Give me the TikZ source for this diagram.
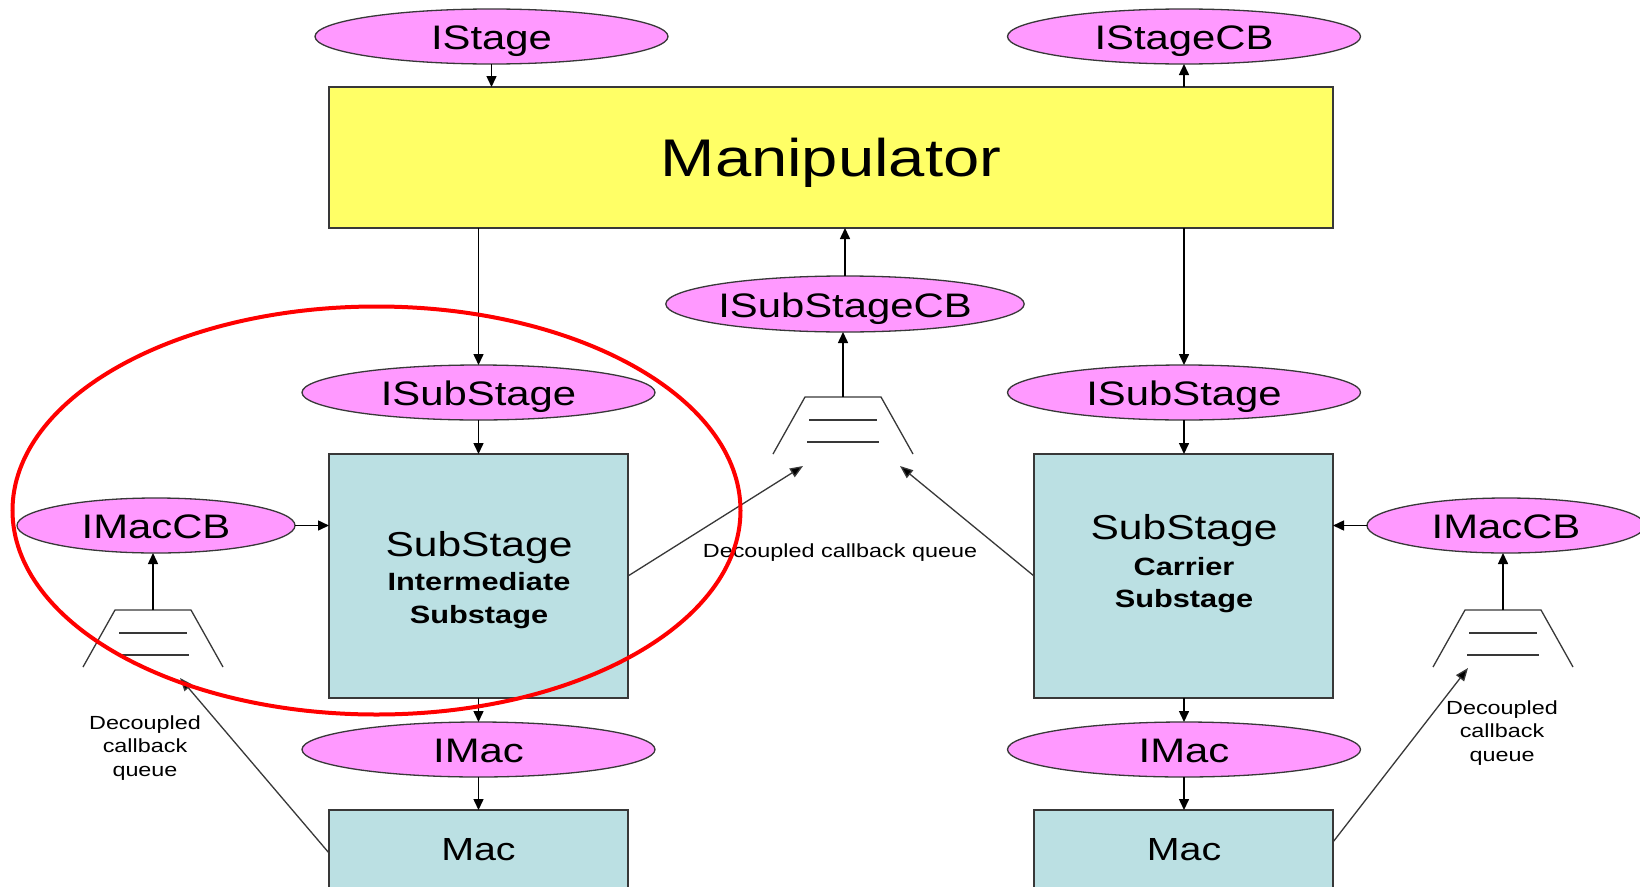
\documentclass[tikz,border=0pt]{standalone}
\usepackage{fontspec}
\setmainfont{Liberation Sans}[FakeStretch=1.23]
\usetikzlibrary{shapes.geometric,arrows.meta}
\definecolor{pinkfill}{HTML}{FF99FF}
\definecolor{cyanfill}{HTML}{BBE0E3}
\definecolor{yellowfill}{HTML}{FFFF66}
\definecolor{edge}{HTML}{383838}
\begin{document}
\begin{tikzpicture}[x=1pt,y=-1pt,
  iface/.style={ellipse, draw=edge, line width=1.3pt, fill=pinkfill,
    minimum width=353pt, minimum height=55pt, inner sep=0pt, outer sep=0pt,
    font=\fontsize{34}{40}\selectfont, text height=26pt, text depth=0pt},
  block/.style={rectangle, draw=edge, line width=1.5pt, fill=cyanfill,
    minimum width=299pt, inner sep=0pt, outer sep=0pt},
  arr/.style={line width=1.5pt, -{Triangle[length=11pt,width=10pt]}},
  diag/.style={draw=edge, line width=1.3pt, -{Triangle[length=13pt,width=10pt,fill=black]}},
  qline/.style={draw=edge, line width=1.3pt},
  big/.style={anchor=base, font=\fontsize{34.6}{40}\selectfont},
  sub/.style={anchor=base, font=\fontsize{25}{30}\selectfont\bfseries},
  small/.style={font=\fontsize{19}{23.5}\selectfont, inner sep=0pt},
  queuepic/.pic={
    \draw[qline] (-70,57) -- (-38,0) -- (38,0) -- (70,57);
    \draw[qline] (-34,23) -- (34,23);
    \draw[qline] (-36,45) -- (36,45);
  }
]
\clip (0,0) rectangle (1640,886);
\fill[white] (0,0) rectangle (1640,886);

% top level
\node[iface] (IStage) at (491.5,36.5) {IStage};
\node[iface] (IStageCB) at (1184,36.5) {IStageCB};
\node[rectangle, draw=edge, line width=1.5pt, fill=yellowfill,
  minimum width=1004pt, minimum height=141pt, inner sep=0pt, outer sep=0pt]
  (Manip) at (831,157.5) {};
\node[anchor=base, font=\fontsize{53}{60}\selectfont] (ManipT) at (831,176) {Manipulator};

% interfaces
\node[iface, minimum width=354pt, minimum height=56pt] (ISubCB) at (845,304) {ISubStageCB};
\node[iface] (ISubL) at (478.5,392.5) {ISubStage};
\node[iface] (ISubR) at (1184,392.5) {ISubStage};

% substages
\node[block, minimum height=244pt] (SubL) at (478.5,576) {};
\node[block, minimum height=244pt] (SubR) at (1183.5,576) {};
\node[big] (SubLT1) at (479,556) {SubStage};
\node[sub] (SubLT2) at (479,590) {Intermediate};
\node[sub] (SubLT3) at (479,623.3) {Substage};
\node[big] (SubRT1) at (1184,539.3) {SubStage};
\node[sub] (SubRT2) at (1184,575.7) {Carrier};
\node[sub] (SubRT3) at (1184,607.7) {Substage};

\node[iface, minimum width=278pt] (MacCBL) at (156,525.5) {IMacCB};
\node[iface, minimum width=278pt] (MacCBR) at (1506,525.5) {IMacCB};

\node[iface] (IMacL) at (478.5,749.5) {IMac};
\node[iface] (IMacR) at (1184,749.5) {IMac};

\node[block, minimum height=100pt, anchor=north] (MacL) at (478.5,810) {};
\node[block, minimum height=100pt, anchor=north] (MacR) at (1183.5,810) {};
\node[anchor=base, font=\fontsize{32}{38}\selectfont] (MacLT) at (478.5,860) {Mac};
\node[anchor=base, font=\fontsize{32}{38}\selectfont] (MacRT) at (1184,860) {Mac};

% queues
\pic at (153,610) {queuepic};
\pic at (843,397) {queuepic};
\pic at (1503,610) {queuepic};
\coordinate (qL) at (153,610);
\coordinate (qM) at (843,397);
\coordinate (qR) at (1503,610);

% vertical / horizontal connectors
\draw[arr] (IStage.south) -- (IStage.south |- Manip.north);
\draw[arr] (IStageCB.south |- Manip.north) -- (IStageCB.south);
\draw[arr] (ISubL.north |- Manip.south) -- (ISubL.north);
\draw[arr] (ISubR.north |- Manip.south) -- (ISubR.north);
\draw[arr] (ISubCB.north) -- (ISubCB.north |- Manip.south);
\draw[arr] (ISubL.south) -- (ISubL.south |- SubL.north);
\draw[arr] (ISubR.south) -- (ISubR.south |- SubR.north);
\draw[arr] (IMacL.north |- SubL.south) -- (IMacL.north);
\draw[arr] (IMacR.north |- SubR.south) -- (IMacR.north);
\draw[arr] (IMacL.south) -- (IMacL.south |- MacL.north);
\draw[arr] (IMacR.south) -- (IMacR.south |- MacR.north);
\draw[arr] (MacCBL.east) -- (MacCBL.east -| SubL.west);
\draw[arr] (MacCBR.west) -- (MacCBR.west -| SubR.east);
\draw[arr] (qL) -- (qL |- MacCBL.south);
\draw[arr] (qM) -- (qM |- ISubCB.south);
\draw[arr] (qR) -- (qR |- MacCBR.south);

% diagonal callback connectors
\coordinate (tM1) at (803,466);
\coordinate (tM2) at (900,466);
\coordinate (tL) at (180,678);
\coordinate (tR) at (1468,668);
\draw[diag] (SubL.east) -- (tM1);
\draw[diag] (SubR.west) -- (tM2);
\draw[diag] ([yshift=-43pt]MacL.north west) -- (tL);
\draw[diag] ([yshift=-32pt]MacR.north east) -- (tR);

% labels
\node[small, anchor=base] (lblM) at (840,557.7) {Decoupled callback queue};
\node[small, anchor=north, align=center] (lblL) at (145,715.3) {Decoupled\\callback\\queue};
\node[small, anchor=north, align=center] (lblR) at (1502,700.5) {Decoupled\\callback\\queue};

% highlight
\draw[red, line width=4pt] (376.5,510.5) ellipse [x radius=364pt, y radius=204pt];
\end{tikzpicture}
\end{document}
